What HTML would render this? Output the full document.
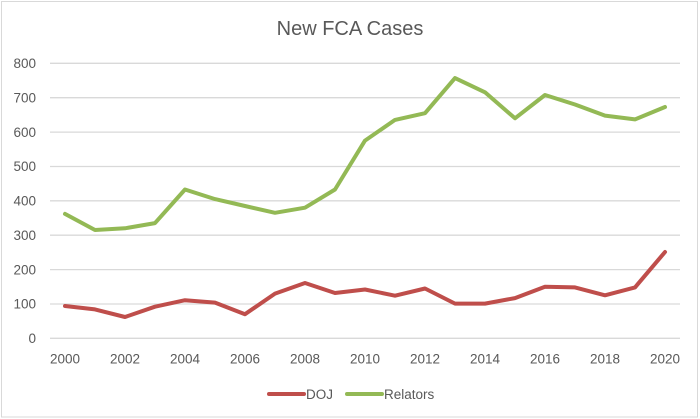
<!DOCTYPE html>
<html><head><meta charset="utf-8"><style>
html,body{margin:0;padding:0;background:#fff;}
svg{display:block;}
text{font-family:"Liberation Sans",Arial,sans-serif;fill:#595959;}
</style></head><body>
<svg width="700" height="419" viewBox="0 0 700 419" xmlns="http://www.w3.org/2000/svg">
<rect x="0" y="0" width="700" height="419" fill="#fff"/>
<rect x="1.5" y="1.5" width="696" height="415.5" fill="none" stroke="#d9d9d9" stroke-width="1"/>
<text x="350" y="35" font-size="20" text-anchor="middle">New FCA Cases</text>
<g stroke="#d9d9d9" stroke-width="1.3">
<line x1="50" y1="63.3" x2="680" y2="63.3"/>
<line x1="50" y1="97.7" x2="680" y2="97.7"/>
<line x1="50" y1="132.1" x2="680" y2="132.1"/>
<line x1="50" y1="166.5" x2="680" y2="166.5"/>
<line x1="50" y1="200.8" x2="680" y2="200.8"/>
<line x1="50" y1="235.2" x2="680" y2="235.2"/>
<line x1="50" y1="269.6" x2="680" y2="269.6"/>
<line x1="50" y1="304" x2="680" y2="304"/>
<line x1="50" y1="338.3" x2="680" y2="338.3"/>
</g>
<g font-size="13.5" text-anchor="end">
<text x="36" y="68">800</text>
<text x="36" y="102.4">700</text>
<text x="36" y="136.8">600</text>
<text x="36" y="171.2">500</text>
<text x="36" y="205.5">400</text>
<text x="36" y="239.9">300</text>
<text x="36" y="274.3">200</text>
<text x="36" y="308.7">100</text>
<text x="36" y="343">0</text>
</g>
<g font-size="13.5" text-anchor="middle">
<text x="65" y="363.5">2000</text>
<text x="125" y="363.5">2002</text>
<text x="185" y="363.5">2004</text>
<text x="245" y="363.5">2006</text>
<text x="305" y="363.5">2008</text>
<text x="365" y="363.5">2010</text>
<text x="425" y="363.5">2012</text>
<text x="485" y="363.5">2014</text>
<text x="545" y="363.5">2016</text>
<text x="605" y="363.5">2018</text>
<text x="665" y="363.5">2020</text>
</g>
<polyline fill="none" stroke="#93b955" stroke-width="4" stroke-linejoin="round" stroke-linecap="round"
points="65,213.9 95,230.0 125,228.3 155,223.1 185,189.5 215,199.1 245,206.0 275,212.8 305,207.7 335,189.5 365,140.6 395,119.9 425,113.2 455,78.1 485,92.3 515,118.3 545,95.0 575,104.5 605,115.6 635,119.4 665,107.0"/>
<polyline fill="none" stroke="#bf4e4b" stroke-width="4" stroke-linejoin="round" stroke-linecap="round"
points="65,306.0 95,309.4 125,317.0 155,306.7 185,300.2 215,302.6 245,314.2 275,293.6 305,283.0 335,293.0 365,289.5 395,295.7 425,288.5 455,303.6 485,303.6 515,298.1 545,286.7 575,287.4 605,295.3 635,287.4 665,252.0"/>
<line x1="269" y1="394" x2="304" y2="394" stroke="#bf4e4b" stroke-width="4" stroke-linecap="round"/>
<text x="306" y="399" font-size="13.5">DOJ</text>
<line x1="347" y1="394" x2="382" y2="394" stroke="#93b955" stroke-width="4" stroke-linecap="round"/>
<text x="384" y="399" font-size="13.5">Relators</text>
</svg>
</body></html>
